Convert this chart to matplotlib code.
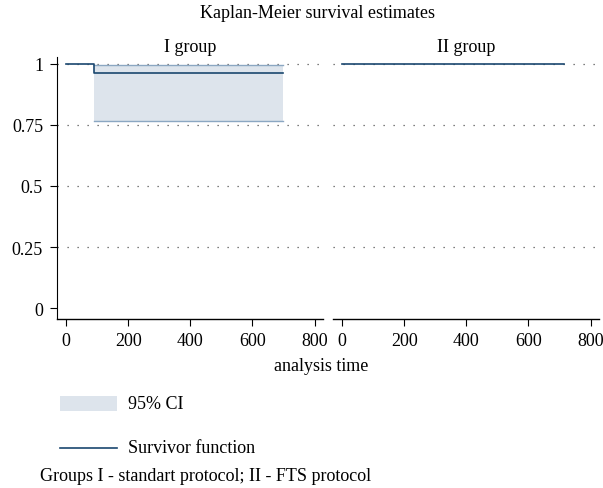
import numpy as np
import matplotlib
matplotlib.use('Agg')
from matplotlib import pyplot as plt
from matplotlib.patches import Rectangle
from matplotlib.lines import Line2D

plt.rcParams['font.family'] = ['Liberation Serif', 'DejaVu Serif']

# survivor function steps (time, estimate) per group
g1_time = [0, 90, 697]
g1_surv = [1.0, 0.963, 0.963]
g1_ci_time = [90, 697]
g1_ci_low = [0.765, 0.765]
g1_ci_high = [0.994, 0.994]

g2_time = [0, 713]
g2_surv = [1.0, 1.0]

groups = ['I group', 'II group']
xticks = [0, 200, 400, 600, 800]
yticks = [0, 0.25, 0.5, 0.75, 1]
yticklabels = ['0', '0.25', '0.5', '0.75', '1']

navy = '#1a476f'
ci_fill = '#dde4ec'
ci_edge = '#8ba7c2'
fs = 13

fig = plt.figure(figsize=(6.03, 4.89), dpi=100)
ax1 = fig.add_axes([57 / 603, 0.3456, 266 / 603, 0.536])
ax2 = fig.add_axes([333 / 603, 0.3456, 266 / 603, 0.536])

for ax, name in zip([ax1, ax2], groups):
    ax.set_xlim(-29, 827)
    ax.set_ylim(-0.045, 1.029)
    for s in ['top', 'right']:
        ax.spines[s].set_visible(False)
    ax.spines['bottom'].set_linewidth(1.0)
    ax.set_xticks(xticks)
    ax.tick_params(axis='x', direction='out', length=5, labelsize=fs, pad=4)
    for y in yticks[1:]:
        ax.axhline(y, color='#555555', lw=0.9, ls=(0, (1, 7)), zorder=0)
    ax.set_title(name, fontsize=fs, pad=4)

ax1.set_yticks(yticks)
ax1.set_yticklabels(yticklabels)
ax1.tick_params(axis='y', direction='out', length=5, labelsize=fs, pad=5)
ax2.spines['left'].set_visible(False)
ax2.set_yticks([])

# group I
ax1.fill_between(g1_ci_time, g1_ci_low, g1_ci_high, color=ci_fill, lw=0, zorder=1)
ax1.plot(g1_ci_time, g1_ci_low, color=ci_edge, lw=1.0, zorder=2)
ax1.plot(g1_ci_time, g1_ci_high, color=ci_edge, lw=1.0, zorder=2)
ax1.step(g1_time, g1_surv, where='post', color=navy, lw=1.2, zorder=3)

# group II
ax2.step(g2_time, g2_surv, where='post', color=navy, lw=1.2, zorder=3)

fig.text(317 / 603, 1 - 13 / 489, 'Kaplan-Meier survival estimates', ha='center', va='center', fontsize=fs)
fig.text(321 / 603, 1 - 367 / 489, 'analysis time', ha='center', va='center', fontsize=fs)

# legend
fig.patches.append(Rectangle((60 / 603, 1 - 412 / 489), 57 / 603, 15 / 489,
                             transform=fig.transFigure, color=ci_fill, lw=0))
fig.text(128 / 603, 1 - 405 / 489, '95% CI', va='center', fontsize=fs)
fig.lines.append(Line2D([60 / 603, 117 / 603], [1 - 449 / 489, 1 - 449 / 489],
                        transform=fig.transFigure, color=navy, lw=1.2))
fig.text(128 / 603, 1 - 449 / 489, 'Survivor function', va='center', fontsize=fs)

fig.text(40 / 603, 1 - 477 / 489, 'Groups I - standart protocol; II - FTS protocol',
         va='center', fontsize=fs)

fig.savefig('out.png', dpi=100)
